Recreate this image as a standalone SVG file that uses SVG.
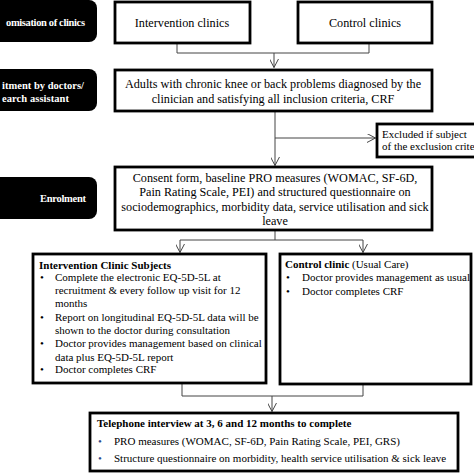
<svg xmlns="http://www.w3.org/2000/svg" width="474" height="474" viewBox="0 0 474 474">
<defs>
<style>
text{font-family:'Liberation Serif','Tinos','DejaVu Serif',serif;}
.lbl{fill:#000;}
.lt{font-weight:bold;font-size:10.5px;fill:#fff;}
.box{fill:#fff;stroke:#000;stroke-width:2.8;}
.t12{font-size:12.2px;fill:#000;}
.t11{font-size:11px;fill:#000;}
.b{font-weight:bold;}
.con{fill:none;stroke:#444;stroke-width:1;}
.blue{fill:#2f4a8a;}
</style>
<marker id="arr" viewBox="0 0 10 10" refX="9.5" refY="5" markerWidth="9" markerHeight="9" markerUnits="userSpaceOnUse" orient="auto">
<path d="M0,0 L9.5,5 L0,10" fill="none" stroke="#444" stroke-width="1.1"/>
</marker>
</defs>
<rect width="474" height="474" fill="#fff"/>

<g id="label-randomisation">
<rect class="lbl" x="-30" y="0" width="127" height="42" rx="8"/>
<text class="lt" x="6" y="25.5" textLength="79" lengthAdjust="spacing">omisation of clinics</text>
</g>
<g id="label-recruitment">
<rect class="lbl" x="-30" y="69" width="127" height="42" rx="8"/>
<text class="lt" x="2" y="89" textLength="82" lengthAdjust="spacing">itment by doctors/</text>
<text class="lt" x="2" y="102" textLength="67" lengthAdjust="spacing">earch assistant</text>
</g>
<g id="label-enrolment">
<rect class="lbl" x="-30" y="177" width="127" height="42" rx="8"/>
<text class="lt" x="40" y="202" textLength="46" lengthAdjust="spacing">Enrolment</text>
</g>

<g id="connectors">
<path class="con" d="M177,43 V53 H369 V43"/>
<path class="con" d="M274,53 V67.5" marker-end="url(#arr)"/>
<path class="con" d="M275,111 V165.5" marker-end="url(#arr)"/>
<path class="con" d="M275,138 H375.5" marker-end="url(#arr)"/>
<path class="con" d="M275,230 V240"/>
<path class="con" d="M180,240 H363"/>
<path class="con" d="M180,240 V252.5" marker-end="url(#arr)"/>
<path class="con" d="M363,240 V252.5" marker-end="url(#arr)"/>
<path class="con" d="M182,383 V396 H363 V384"/>
<path class="con" d="M272,396 V411.5" marker-end="url(#arr)"/>
</g>

<g id="intervention-clinics">
<rect class="box" x="115" y="2" width="135" height="41"/>
<text class="t12" x="182" y="26.5" text-anchor="middle">Intervention clinics</text>
</g>
<g id="control-clinics">
<rect class="box" x="298" y="2" width="134" height="41"/>
<text class="t12" x="365" y="26.5" text-anchor="middle">Control clinics</text>
</g>

<g id="adults">
<rect class="box" x="115" y="70" width="317" height="41"/>
<text class="t12" x="273" y="88" text-anchor="middle">Adults with chronic knee or back problems diagnosed by the</text>
<text class="t12" x="273" y="103" text-anchor="middle">clinician and satisfying all inclusion criteria, CRF</text>
</g>

<g id="excluded">
<rect class="box" x="377" y="124" width="110" height="33"/>
<text class="t11" x="382" y="137.5">Excluded if  subject</text>
<text class="t11" x="382" y="150">of the exclusion crite</text>
</g>

<g id="consent">
<rect class="box" x="115" y="167" width="317" height="63"/>
<text class="t12" x="275" y="182" text-anchor="middle">Consent form, baseline PRO measures (WOMAC, SF-6D,</text>
<text class="t12" x="275" y="196" text-anchor="middle">Pain Rating Scale, PEI) and structured questionnaire on</text>
<text class="t12" x="275" y="210.5" text-anchor="middle">sociodemographics, morbidity data, service utilisation and sick</text>
<text class="t12" x="275" y="225" text-anchor="middle">leave</text>
</g>

<g id="intervention-subjects">
<rect class="box" x="33" y="254" width="233" height="129"/>
<text class="t11 b" x="39" y="269">Intervention Clinic Subjects</text>
<text class="t11" x="40" y="281">•</text>
<text class="t11" x="55" y="281">Complete the electronic EQ-5D-5L at</text>
<text class="t11" x="55" y="294">recruitment &amp; every follow up visit for 12</text>
<text class="t11" x="55" y="307">months</text>
<text class="t11" x="40" y="321">•</text>
<text class="t11" x="55" y="321">Report on longitudinal EQ-5D-5L data will be</text>
<text class="t11" x="55" y="334">shown to the doctor during consultation</text>
<text class="t11" x="40" y="347">•</text>
<text class="t11" x="55" y="347">Doctor provides management based on clinical</text>
<text class="t11" x="55" y="361">data plus EQ-5D-5L report</text>
<text class="t11" x="40" y="373">•</text>
<text class="t11" x="55" y="373">Doctor completes CRF</text>
</g>

<g id="control-subjects">
<rect class="box" x="280" y="254" width="191" height="130"/>
<text class="t11" x="285" y="268"><tspan class="b">Control clinic</tspan> (Usual Care)</text>
<text class="t11" x="286" y="281">•</text>
<text class="t11" x="302" y="281">Doctor provides management as usual</text>
<text class="t11" x="286" y="295">•</text>
<text class="t11" x="302" y="295">Doctor completes CRF</text>
</g>

<g id="telephone">
<rect class="box" x="90" y="413" width="368" height="58"/>
<text class="t11 b" x="97" y="427">Telephone interview at 3, 6 and 12 months to complete</text>
<text class="t11 blue" x="98" y="445">•</text>
<text class="t11" x="114" y="445">PRO measures (WOMAC, SF-6D, Pain Rating Scale, PEI, GRS)</text>
<text class="t11 blue" x="98" y="462">•</text>
<text class="t11" x="114" y="462">Structure questionnaire on morbidity, health service utilisation &amp; sick leave</text>
</g>
</svg>
